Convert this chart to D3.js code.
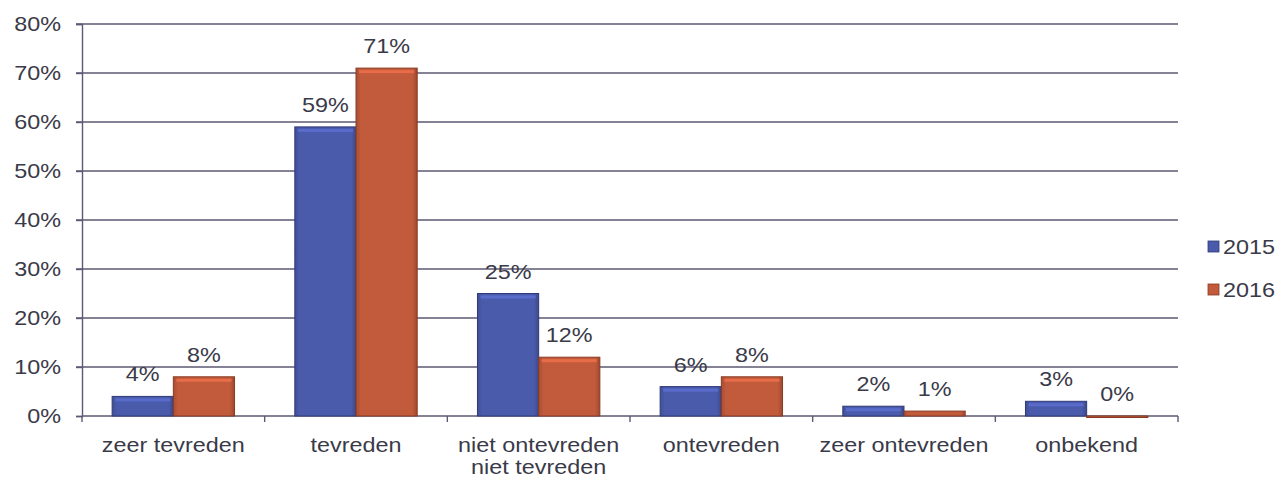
<!DOCTYPE html>
<html>
<head>
<meta charset="utf-8">
<script src="https://cdn.jsdelivr.net/npm/d3@7"></script>
<style>
  body { margin: 0; background: #fff; }
  text { font-family: "Liberation Sans", Arial, sans-serif; fill: #3a3a48; }
</style>
</head>
<body>
<svg id="chart" width="1283" height="483"></svg>
<script>
var categories = ['zeer tevreden', 'tevreden', 'niet ontevreden\nniet tevreden', 'ontevreden', 'zeer ontevreden', 'onbekend']
var seriesNames = ['2015', '2016']
var values2015 = [4, 59, 25, 6, 2, 3]
var values2016 = [8, 71, 12, 8, 1, 0]
var yTicks = [0, 10, 20, 30, 40, 50, 60, 70, 80]

var colors = { '2015': '#4b5bac', '2016': '#c25b3c' }
var edges = { '2015': '#2f3a78', '2016': '#8a3a22' }
var stretch = 'scale(1.17,1)' // the source text is a bit wide

var svg = d3.select('#chart')
var margin = { left: 82, right: 105, top: 24, bottom: 67 }
var width = 1283 - margin.left - margin.right,
  height = 483 - margin.top - margin.bottom

var g = svg.append('g').attr('transform', 'translate(' + margin.left + ',' + margin.top + ')')

var x = d3.scaleBand().domain(d3.range(categories.length)).range([0, width]).paddingInner(0).paddingOuter(0)
var x1 = d3.scaleBand().domain(seriesNames).range([x.bandwidth() * 0.165, x.bandwidth() * 0.835])
var y = d3.scaleLinear().domain([0, 80]).range([height, 0])

// gradients for a bevelled look
var defs = svg.append('defs')
seriesNames.forEach(function(s) {
  var grad = defs.append('linearGradient').attr('id', 'grad' + s).attr('x1', 0).attr('x2', 1).attr('y1', 0).attr('y2', 0)
  grad.append('stop').attr('offset', '0%').attr('stop-color', d3.color(colors[s]).darker(0.4))
  grad.append('stop').attr('offset', '8%').attr('stop-color', colors[s])
  grad.append('stop').attr('offset', '92%').attr('stop-color', colors[s])
  grad.append('stop').attr('offset', '100%').attr('stop-color', d3.color(colors[s]).darker(0.6))
})

// gridlines
g.append('g')
  .selectAll('line')
  .data(yTicks.filter(d => d > 0))
  .enter()
  .append('line')
  .attr('x1', -6)
  .attr('x2', width)
  .attr('y1', d => y(d))
  .attr('y2', d => y(d))
  .attr('stroke', '#5e5873')
  .attr('stroke-width', 1.4)

// y axis
var yAxis = g.append('g').call(
  d3.axisLeft(y).tickValues(yTicks).tickFormat(d => d + '%').tickSize(6).tickPadding(8)
)
yAxis.select('.domain').attr('stroke', '#5e5873').attr('stroke-width', 1.4)
yAxis.selectAll('.tick line').attr('stroke', '#5e5873').attr('stroke-width', 1.4)
yAxis.selectAll('.tick text')
  .style('font-size', '20px')
  .attr('fill', '#3a3a48')
  .attr('x', 0)
  .attr('transform', 'translate(-21,0) ' + stretch)

// x axis line + tick marks
g.append('line')
  .attr('x1', 0).attr('x2', width)
  .attr('y1', height).attr('y2', height)
  .attr('stroke', '#5e5873').attr('stroke-width', 1.4)
g.append('g')
  .selectAll('line')
  .data(d3.range(categories.length + 1))
  .enter()
  .append('line')
  .attr('x1', d => d * x.bandwidth())
  .attr('x2', d => d * x.bandwidth())
  .attr('y1', height)
  .attr('y2', height + 6)
  .attr('stroke', '#5e5873').attr('stroke-width', 1.4)

// category labels
var catLabels = g.append('g')
  .selectAll('text')
  .data(categories)
  .enter()
  .append('text')
  .attr('text-anchor', 'middle')
  .attr('transform', (d, i) => 'translate(' + (x(i) + x.bandwidth() / 2) + ',' + (height + 36) + ') ' + stretch)
  .style('font-size', '20px')
catLabels.each(function(d) {
  var t = d3.select(this)
  d.split('\n').forEach(function(line, k) {
    t.append('tspan').attr('x', 0).attr('dy', k === 0 ? 0 : 22).text(line)
  })
})

// bars
var rows = categories.map((c, i) => [
  { s: '2015', v: values2015[i], i: i },
  { s: '2016', v: values2016[i], i: i }
])

var groups = g.selectAll('.cat')
  .data(rows)
  .enter()
  .append('g')
  .attr('class', 'cat')
  .attr('transform', (d, i) => 'translate(' + x(i) + ',0)')

var bars = groups.selectAll('.bar')
  .data(d => d)
  .enter()
  .append('g')
  .attr('class', 'bar')

bars.append('rect')
  .attr('x', d => x1(d.s))
  .attr('y', d => y(d.v))
  .attr('width', x1.bandwidth())
  .attr('height', d => Math.max(1.5, height - y(d.v)))
  .attr('fill', d => 'url(#grad' + d.s + ')')
  .attr('stroke', d => edges[d.s])
  .attr('stroke-width', 1)

// top highlight strip
bars.filter(d => height - y(d.v) > 6)
  .append('rect')
  .attr('x', d => x1(d.s) + 3)
  .attr('y', d => y(d.v) + 2)
  .attr('width', x1.bandwidth() - 6)
  .attr('height', 3)
  .attr('fill', d => d3.color(colors[d.s]).brighter(0.6))
  .attr('opacity', 0.8)

// value labels
bars.append('text')
  .attr('text-anchor', 'middle')
  .attr('transform', d => 'translate(' + (x1(d.s) + x1.bandwidth() / 2) + ',' + (y(d.v) - 15) + ') ' + stretch)
  .style('font-size', '20px')
  .text(d => d.v + '%')

// legend
var legend = svg.append('g')
  .selectAll('g')
  .data(seriesNames)
  .enter()
  .append('g')
  .attr('transform', (d, i) => 'translate(1208,' + (241 + i * 43) + ')')
legend.append('rect')
  .attr('width', 11).attr('height', 11)
  .attr('fill', d => colors[d])
  .attr('stroke', d => edges[d]).attr('stroke-width', 0.8)
legend.append('text')
  .attr('transform', 'translate(15,13) ' + stretch)
  .style('font-size', '20px')
  .text(d => d)
</script>
</body>
</html>
